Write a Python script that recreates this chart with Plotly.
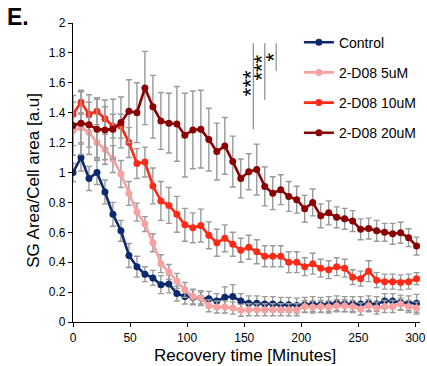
import plotly.graph_objects as go

# ---- data ----
times = [0, 7, 14, 21, 28, 35, 42, 49, 56, 63, 70, 77, 84, 91, 98, 105, 112, 119, 126, 133, 140, 147,
         154, 161, 168, 175, 182, 189, 196, 203, 210, 217, 224, 231, 238, 245, 252, 259, 266, 273, 280,
         287, 294, 301]

control = [1.0, 1.1, 0.96, 1.0, 0.87, 0.72, 0.61, 0.445, 0.37, 0.32, 0.295, 0.25, 0.255, 0.19, 0.17,
           0.165, 0.16, 0.155, 0.14, 0.165, 0.17, 0.14, 0.125, 0.125, 0.12, 0.12, 0.115, 0.115, 0.11,
           0.115, 0.12, 0.115, 0.12, 0.125, 0.12, 0.12, 0.12, 0.125, 0.12, 0.14, 0.14, 0.13, 0.125, 0.125]
control_err = [0.06, 0.09, 0.08, 0.08, 0.08, 0.08, 0.07, 0.08, 0.07, 0.05, 0.05, 0.06, 0.06, 0.05, 0.05,
               0.05, 0.05, 0.05, 0.05, 0.07, 0.08, 0.05, 0.05, 0.05, 0.05, 0.05, 0.05, 0.05, 0.05,
               0.05, 0.05, 0.05, 0.05, 0.05, 0.05, 0.05, 0.05, 0.05, 0.05, 0.05, 0.05, 0.05, 0.05, 0.06]

d5 = [1.28, 1.30, 1.27, 1.20, 1.155, 1.09, 0.99, 0.86, 0.735, 0.655, 0.53, 0.39, 0.335, 0.275, 0.215,
      0.17, 0.16, 0.109, 0.1, 0.1, 0.093, 0.078, 0.082, 0.082, 0.082, 0.082, 0.082, 0.082, 0.082,
      0.104, 0.1, 0.104, 0.1, 0.109, 0.109, 0.104, 0.087, 0.109, 0.093, 0.104, 0.104, 0.12, 0.104, 0.093]
d5_err = [0.1, 0.1, 0.1, 0.1, 0.1, 0.09, 0.09, 0.08, 0.06, 0.05, 0.06, 0.06, 0.05, 0.05, 0.05,
          0.05, 0.04, 0.04, 0.04, 0.04, 0.04, 0.04, 0.04, 0.04, 0.04, 0.04, 0.04, 0.04, 0.04,
          0.04, 0.04, 0.04, 0.04, 0.04, 0.04, 0.04, 0.04, 0.04, 0.04, 0.04, 0.04, 0.04, 0.04, 0.04]

d10 = [1.39, 1.47, 1.39, 1.41, 1.36, 1.31, 1.31, 1.20, 1.06, 1.07, 0.91, 0.81, 0.78, 0.72, 0.65, 0.63,
       0.645, 0.58, 0.53, 0.56, 0.52, 0.48, 0.50, 0.47, 0.44, 0.44, 0.44, 0.40, 0.40, 0.37, 0.39, 0.36,
       0.35, 0.37, 0.36, 0.30, 0.29, 0.34, 0.28, 0.27, 0.27, 0.265, 0.27, 0.29]
d10_err = [0.08, 0.08, 0.08, 0.09, 0.08, 0.08, 0.08, 0.1, 0.1, 0.1, 0.12, 0.13, 0.12, 0.12, 0.11, 0.1,
           0.11, 0.09, 0.09, 0.09, 0.08, 0.08, 0.08, 0.08, 0.07, 0.07, 0.07, 0.07, 0.07, 0.06, 0.07, 0.06,
           0.06, 0.06, 0.06, 0.05, 0.05, 0.07, 0.05, 0.05, 0.05, 0.05, 0.05, 0.04]

d20 = [1.315, 1.33, 1.32, 1.29, 1.285, 1.29, 1.335, 1.41, 1.40, 1.565, 1.44, 1.345, 1.33, 1.325, 1.25,
       1.285, 1.29, 1.22, 1.14, 1.178, 1.073, 0.96, 1.005, 1.02, 0.907, 0.862, 0.885, 0.84, 0.818, 0.757,
       0.8, 0.71, 0.73, 0.70, 0.69, 0.675, 0.62, 0.625, 0.61, 0.60, 0.59, 0.597, 0.564, 0.508]
d20_err = [0.2, 0.21, 0.2, 0.2, 0.2, 0.2, 0.17, 0.21, 0.2, 0.245, 0.21, 0.19, 0.2, 0.25, 0.28, 0.26,
           0.26, 0.21, 0.19, 0.19, 0.17, 0.13, 0.12, 0.17, 0.13, 0.11, 0.1, 0.1, 0.09, 0.09, 0.09, 0.08,
           0.08, 0.07, 0.07, 0.07, 0.07, 0.07, 0.07, 0.06, 0.07, 0.07, 0.06, 0.06]

series_names = ["Control", "2-D08 5uM", "2-D08 10uM", "2-D08 20uM"]
series_vals = [control, d5, d10, d20]
series_errs = [control_err, d5_err, d10_err, d20_err]
series_colors = ["#0d2a6e", "#f7a1a1", "#ff2a17", "#8b0000"]

# significance brackets
sig_x = [158, 168, 178]
sig_ybot = [1.29, 1.485, 1.68]
sig_ytop = [1.865, 1.865, 1.865]
sig_labels = ["***", "***", "*"]
sig_label_y = [1.6, 1.7, 1.77]

FONT = "Arial, 'Liberation Sans', sans-serif"

fig = go.Figure()
for name, vals, errs, col in zip(series_names, series_vals, series_errs, series_colors):
    fig.add_trace(go.Scatter(
        x=times, y=vals, name=name, mode="lines+markers",
        line=dict(color=col, width=2.6),
        marker=dict(color=col, size=7),
        error_y=dict(type="data", array=errs, visible=True, color="#9a9a9a", thickness=1.4, width=3),
        legendgroup=name,
    ))

for x, yb, yt, lab, ly in zip(sig_x, sig_ybot, sig_ytop, sig_labels, sig_label_y):
    fig.add_shape(type="line", xref="x", yref="y", x0=x, x1=x, y0=yb, y1=yt,
                  line=dict(color="#8c8c8c", width=1.2))
    fig.add_annotation(x=x, y=ly, xref="x", yref="y",
                       text=lab, showarrow=False, textangle=-90, xshift=-3,
                       font=dict(family=FONT, size=22, color="black"))

fig.add_annotation(text="<b>E.</b>", xref="paper", yref="paper", x=-0.195, y=1.07,
                   xanchor="left", yanchor="top", showarrow=False,
                   font=dict(family=FONT, size=23, color="black"))

fig.add_annotation(text="Recovery time [Minutes]", xref="paper", yref="paper",
                   x=0.497, y=-0.112, xanchor="center", yanchor="middle", showarrow=False,
                   font=dict(family=FONT, size=17, color="black"))
fig.add_annotation(text="SG Area/Cell area [a.u]", xref="paper", yref="paper",
                   x=-0.113, y=0.475, xanchor="center", yanchor="middle", showarrow=False,
                   textangle=-90, font=dict(family=FONT, size=17, color="black"))

fig.update_layout(
    width=427, height=366,
    margin=dict(l=73, r=7, t=23, b=44, autoexpand=False),
    paper_bgcolor="white", plot_bgcolor="white",
    font=dict(family=FONT, size=12, color="black"),
    showlegend=True,
    legend=dict(x=0.651, y=0.988, xanchor="left", yanchor="top",
                font=dict(family=FONT, size=14, color="black"),
                tracegroupgap=9, bgcolor="rgba(0,0,0,0)"),
    xaxis=dict(range=[0, 304], tickmode="linear", tick0=0, dtick=50, automargin=False,
               showline=True, linecolor="black", linewidth=1.3, ticks="outside", ticklen=4,
               tickcolor="black", showgrid=False, zeroline=False,
               tickfont=dict(size=12)),
    yaxis=dict(range=[0, 2], tickmode="linear", tick0=0, dtick=0.2, automargin=False,
               showline=True, linecolor="black", linewidth=1.3, ticks="outside", ticklen=4,
               tickcolor="black", showgrid=False, zeroline=False,
               tickfont=dict(size=12)),
)

fig.write_html("out.html", config={"displayModeBar": False},
               post_script="document.body.style.margin='0';document.body.style.padding='0';")
